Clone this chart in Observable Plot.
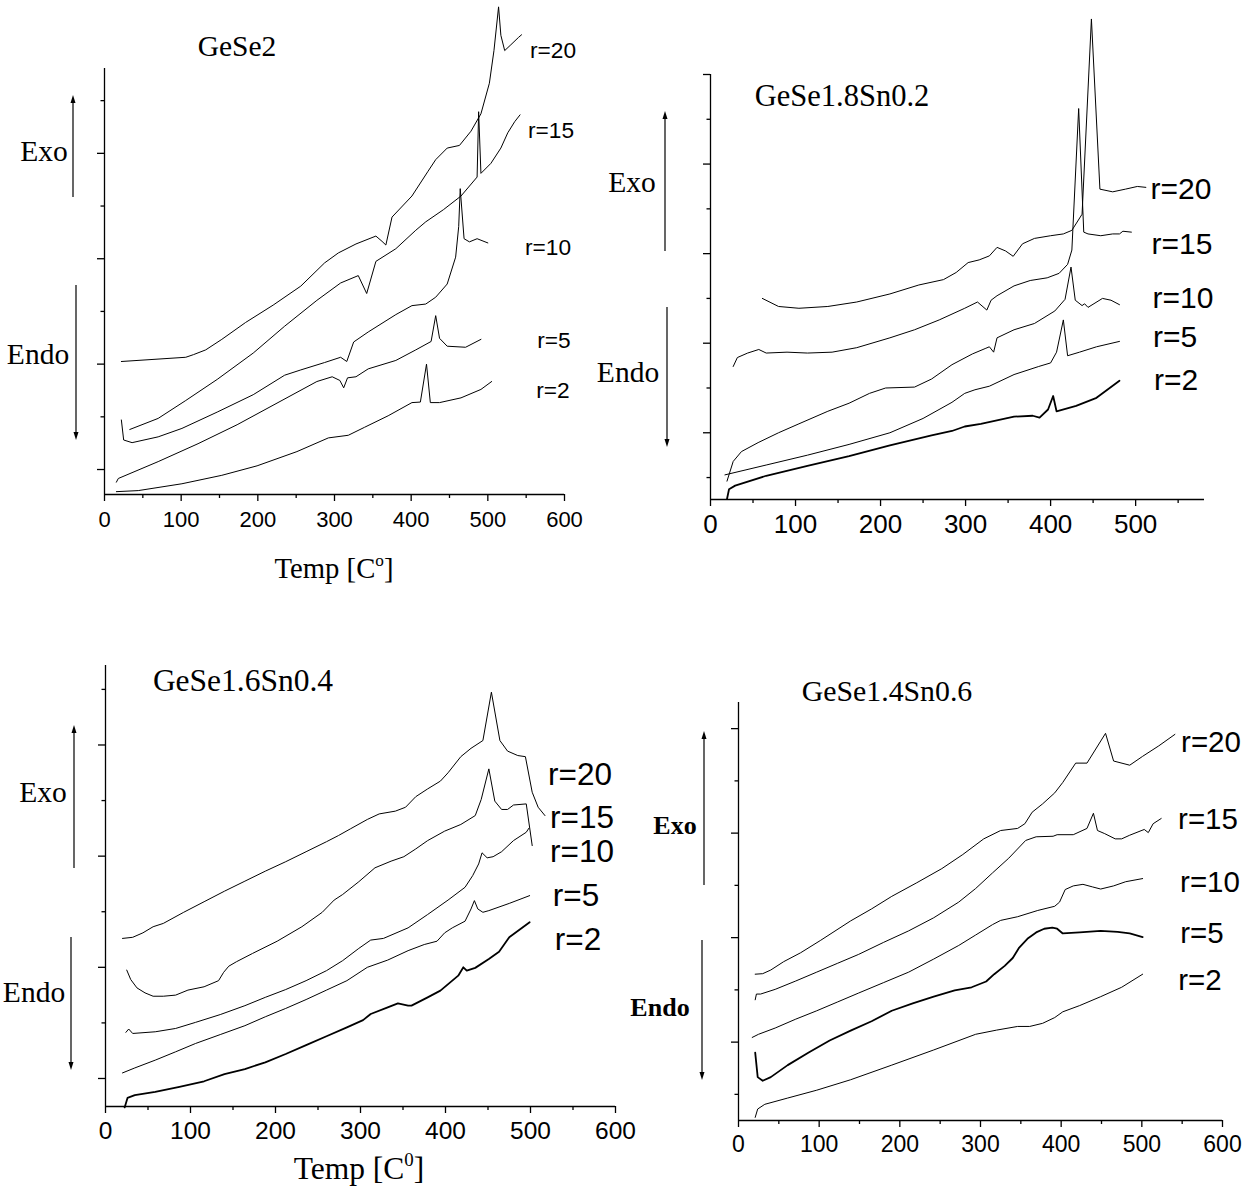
<!DOCTYPE html>
<html><head><meta charset="utf-8">
<script src="https://cdn.jsdelivr.net/npm/d3@7"></script>
<script src="https://cdn.jsdelivr.net/npm/@observablehq/plot@0.6"></script>
<style>
html,body{margin:0;padding:0;background:#fff;}
#root{position:relative;width:1251px;height:1195px;overflow:hidden;background:#fff;}
.p{position:absolute;}
.t{position:absolute;transform:translate(-50%,-50%);white-space:nowrap;line-height:1;color:#000;}
.serif{font-family:"Liberation Serif","Times New Roman",serif;}
.sans{font-family:"Liberation Sans",Arial,sans-serif;}
sup{font-size:0.6em;vertical-align:0.7em;line-height:0;}
</style></head><body><div id="root"></div>
<script>
// ---------- DATA: [temperature °C, heat flow (arb. units, one unit = one minor tick)] ----------
// Panel 1: GeSe2
const gese2_r2 = [[15.5,0.58],[44,0.60],[101,0.73],[153,0.89],[199,1.07],[251,1.34],[292,1.60],[318,1.65],[339,1.80],[370,2.02],[401,2.27],[412,2.28],[420,3.0],[425,2.27],[437,2.27],[465,2.36],[491,2.52],[505,2.67]];
const gese2_r5 = [[15.5,0.76],[18,0.83],[70,1.15],[122,1.49],[173,1.85],[225,2.26],[277,2.67],[297,2.76],[307,2.69],[312,2.55],[317,2.74],[328,2.76],[344,2.91],[380,3.07],[406,3.27],[426,3.43],[432,3.92],[437,3.49],[447,3.34],[471,3.32],[491,3.47]];
const gese2_r10 = [[22,1.94],[25,1.56],[36,1.51],[70,1.62],[101,1.78],[147,2.09],[194,2.42],[235,2.79],[256,2.89],[287,3.03],[308,3.13],[316,3.05],[325,3.42],[344,3.61],[380,3.94],[401,4.11],[419,4.14],[432,4.27],[447,4.52],[458,5.03],[462,5.61],[464,6.33],[469,5.38],[476,5.32],[486,5.38],[500,5.30]];
const gese2_r15 = [[33,1.76],[70,1.97],[106,2.31],[147,2.71],[194,3.21],[235,3.72],[277,4.21],[308,4.54],[331,4.68],[342,4.34],[354,4.95],[380,5.19],[406,5.54],[419,5.70],[442,5.93],[465,6.19],[486,6.55],[488,7.79],[491,6.62],[504,6.81],[517,7.10],[526,7.39],[535,7.60],[542,7.73]];
const gese2_r20 = [[22,3.05],[106,3.13],[116,3.18],[132,3.27],[153,3.47],[184,3.79],[220,4.12],[256,4.48],[287,4.92],[305,5.11],[328,5.28],[354,5.43],[362,5.33],[367,5.26],[375,5.79],[401,6.19],[422,6.66],[432,6.88],[447,7.10],[463,7.15],[478,7.42],[491,7.75],[502,8.33],[508,8.95],[514,9.78],[517,9.24],[522,8.95],[530,9.06],[540,9.20],[544,9.25]];

// Panel 2: GeSe1.8Sn0.2
const sn02_r2 = [[19.4,-0.48],[21.8,-0.26],[29,-0.18],[65.5,0.04],[114,0.26],[163,0.48],[211,0.72],[260,0.94],[284,1.04],[299,1.14],[318,1.20],[357,1.36],[379,1.38],[387,1.34],[397,1.52],[403,1.82],[407,1.48],[430,1.60],[454,1.78],[481,2.16]];
const sn02_r5 = [[17,0.06],[65.5,0.28],[114,0.50],[163,0.74],[211,1.0],[250,1.32],[284,1.68],[299,1.88],[311,1.96],[328,2.04],[357,2.30],[386,2.48],[400,2.56],[407,2.80],[415,3.52],[420,2.72],[434,2.80],[454,2.92],[481,3.04]];
const sn02_r10 = [[19.4,-0.08],[26.7,0.36],[36.4,0.58],[56,0.78],[80,1.0],[104,1.2],[138,1.48],[163,1.66],[187,1.88],[206,2.0],[240,2.02],[260,2.2],[284,2.52],[308,2.76],[323,2.88],[328,2.92],[333,2.80],[337,3.12],[357,3.30],[381,3.44],[405,3.72],[417,3.98],[424,4.70],[429,3.96],[437,3.84],[440,3.88],[444,3.80],[461,4.0],[471,3.96],[481,3.86]];
const sn02_r15 = [[26.7,2.48],[31.6,2.68],[43.7,2.78],[56.8,2.86],[65.5,2.78],[90,2.80],[114,2.78],[143,2.80],[172,2.90],[211,3.12],[240,3.30],[269,3.52],[299,3.78],[314,3.92],[325,3.74],[330,3.96],[337,4.06],[357,4.28],[376,4.40],[396,4.46],[410,4.56],[420,4.76],[425,5.08],[433,8.24],[439,5.48],[444,5.44],[459,5.40],[473,5.44],[481,5.44],[485,5.50],[495,5.48]];
const sn02_r20 = [[61,4.0],[80,3.82],[104,3.78],[138,3.82],[172,3.92],[211,4.10],[245,4.30],[274,4.42],[289,4.58],[303,4.80],[316,4.86],[328,4.95],[337,5.14],[347,5.06],[356,4.94],[367,5.22],[381,5.34],[400,5.40],[415,5.44],[425,5.52],[437,5.88],[448,10.24],[458,6.44],[473,6.38],[488,6.44],[502,6.50],[512,6.48]];

// Panel 3: GeSe1.6Sn0.4
const sn04_r2 = [[22.5,0.48],[25.9,0.65],[34.5,0.70],[58.5,0.76],[87,0.85],[116,0.95],[140,1.08],[164,1.17],[188,1.29],[212,1.44],[236,1.60],[260,1.76],[284,1.92],[303,2.05],[312,2.16],[332,2.28],[344,2.35],[356,2.31],[360,2.31],[379,2.46],[394,2.58],[408,2.76],[415,2.85],[421,3.0],[425,2.94],[435,2.99],[451,3.15],[463,3.28],[475,3.54],[499,3.81]];
const sn04_r5 = [[20,1.10],[34.5,1.19],[58.5,1.33],[82.5,1.48],[106,1.63],[135,1.79],[164,1.95],[188,2.11],[212,2.26],[236,2.42],[260,2.59],[284,2.76],[308,3.0],[332,3.13],[356,3.30],[375,3.41],[390,3.47],[399,3.62],[408,3.71],[423,3.83],[430,4.05],[434,4.20],[438,4.05],[444,3.99],[451,4.02],[475,4.15],[499,4.29]];
const sn04_r10 = [[24,1.83],[27.3,1.89],[32,1.81],[58.5,1.84],[82.5,1.90],[106,2.01],[135,2.15],[164,2.31],[188,2.46],[212,2.60],[236,2.76],[260,2.94],[279,3.12],[298,3.34],[312,3.49],[327,3.52],[356,3.71],[379,3.95],[403,4.21],[423,4.44],[432,4.65],[439,4.86],[443,5.06],[449,4.97],[456,4.99],[466,5.08],[480,5.28],[495,5.43],[498,5.50]];
const sn04_r15 = [[25,2.95],[29.7,2.78],[37,2.63],[46.5,2.54],[56,2.48],[68,2.48],[82.5,2.50],[97,2.59],[116,2.65],[133,2.76],[139,2.91],[145,3.02],[154,3.10],[173,3.25],[202,3.47],[231,3.73],[255,3.99],[269,4.21],[279,4.31],[298,4.54],[317,4.79],[336,4.91],[351,4.99],[365,5.13],[379,5.28],[399,5.45],[418,5.57],[435,5.73],[442,6.02],[451,6.57],[458,5.99],[466,5.84],[473,5.84],[480,5.92],[495,5.94],[502,5.19]];
const sn04_r20 = [[20,3.52],[32,3.54],[44,3.62],[56,3.73],[68,3.79],[92,3.99],[116,4.18],[140,4.37],[164,4.55],[188,4.73],[212,4.90],[236,5.08],[260,5.26],[274,5.37],[288,5.49],[308,5.66],[322,5.76],[341,5.81],[353,5.88],[365,6.07],[379,6.21],[394,6.35],[403,6.50],[418,6.79],[430,6.94],[444,7.08],[454,7.95],[464,7.08],[473,6.89],[485,6.81],[494,6.79],[502,6.15],[509,5.88],[517,5.73]];

// Panel 4: GeSe1.4Sn0.6
const sn06_r2 = [[20.7,-0.44],[23.8,-0.28],[32.6,-0.19],[61,-0.07],[97,0.08],[139,0.28],[190,0.56],[242,0.85],[294,1.15],[320,1.23],[346,1.30],[361,1.30],[377,1.36],[392,1.47],[402,1.58],[423,1.70],[449,1.87],[475,2.05],[501,2.30]];
const sn06_r5 = [[20.7,0.80],[23.8,0.33],[30,0.26],[40,0.33],[61,0.56],[87,0.80],[113,1.03],[139,1.22],[165,1.40],[190,1.60],[216,1.74],[242,1.87],[268,1.99],[289,2.05],[307,2.16],[317,2.30],[330,2.46],[340,2.61],[348,2.81],[359,2.99],[369,3.10],[379,3.17],[389,3.19],[395,3.17],[402,3.08],[423,3.10],[449,3.13],[470,3.11],[485,3.08],[501,3.01]];
const sn06_r10 = [[17,1.09],[24.8,1.15],[45.5,1.27],[71,1.44],[97,1.60],[123,1.77],[149,1.94],[180,2.14],[211,2.34],[242,2.59],[273,2.85],[294,3.05],[315,3.25],[325,3.33],[346,3.40],[371,3.52],[392,3.60],[398,3.68],[405,3.92],[415,3.99],[427,4.02],[439,3.97],[449,3.93],[465,3.99],[480,4.07],[501,4.13]];
const sn06_r15 = [[20.7,1.81],[22.2,1.92],[27.4,1.92],[45.5,2.01],[71,2.17],[97,2.34],[123,2.51],[149,2.68],[180,2.91],[211,3.13],[242,3.38],[273,3.68],[294,3.94],[315,4.24],[335,4.52],[356,4.86],[369,4.93],[390,4.94],[395,4.97],[415,4.97],[432,5.09],[440,5.38],[445,5.05],[454,4.99],[467,4.89],[475,4.89],[485,4.96],[503,5.07],[508,5.01],[514,5.18],[524,5.28]];
const sn06_r20 = [[20.7,2.30],[30,2.31],[40,2.38],[56,2.54],[77,2.71],[102,2.95],[139,3.32],[165,3.55],[190,3.79],[221,4.05],[252,4.32],[278,4.59],[304,4.89],[325,5.05],[346,5.09],[355,5.18],[364,5.40],[377,5.56],[392,5.77],[402,5.97],[418,6.34],[432,6.34],[455,6.91],[465,6.38],[485,6.30],[501,6.47],[521,6.67],[541,6.89]];

// Text
const rates = ["r=20","r=15","r=10","r=5","r=2"];
const titles = ["GeSe2","GeSe1.8Sn0.2","GeSe1.6Sn0.4","GeSe1.4Sn0.6"];
const xTickLabels = [0,100,200,300,400,500,600];
const xMinorTicks = [50,150,250,350,450,550];

// ---------- BUILD ----------
const root = document.getElementById("root");
function rows(arr, r){ return arr.map(([T,u]) => ({T, u, r})); }

const panels = [
  {left:0, top:0, width:620, height:600, mt:68, mb:106, ml:104, mr:56, xd:[0,600], yd:[0.526,8.61],
   xt:xTickLabels, ymaj:[1,3,5,7], ymin:[2,4,6,8], fs:22, pad:10,
   thin:[gese2_r2,gese2_r5,gese2_r10,gese2_r15,gese2_r20], thick:[]},
  {left:620, top:0, width:631, height:600, mt:74, mb:101, ml:90, mr:47, xd:[0,581], yd:[-0.49,9],
   xt:xTickLabels.slice(0,6), ymaj:[1,3,5,7,9], ymin:[0,2,4,6,8], fs:26, pad:8,
   thin:[sn02_r5,sn02_r10,sn02_r15,sn02_r20], thick:[sn02_r2]},
  {left:0, top:600, width:640, height:595, mt:65, mb:89, ml:105, mr:25, xd:[0,600], yd:[0.496,8.43],
   xt:xTickLabels, ymaj:[1,3,5,7], ymin:[2,4,6,8], fs:24.5, pad:8,
   thin:[sn04_r5,sn04_r10,sn04_r15,sn04_r20], thick:[sn04_r2]},
  {left:640, top:600, width:611, height:595, mt:102, mb:75, ml:98, mr:29, xd:[0,600], yd:[-0.5,7.5],
   xt:xTickLabels, ymaj:[1,3,5,7], ymin:[0,2,4,6], fs:23, pad:8,
   thin:[sn06_r2,sn06_r10,sn06_r15,sn06_r20], thick:[sn06_r5]}
];

panels.forEach((p, i) => {
  const thinData = p.thin.flatMap((a, k) => rows(a, "s"+k));
  const thickData = p.thick.flatMap((a, k) => rows(a, "t"+k));
  const chart = Plot.plot({
    width: p.width, height: p.height,
    marginTop: p.mt, marginBottom: p.mb, marginLeft: p.ml, marginRight: p.mr,
    x: {domain: p.xd}, y: {domain: p.yd},
    style: {fontFamily: "'Liberation Sans', Arial, sans-serif", fontSize: p.fs + "px", color: "#000", background: "transparent", overflow: "visible"},
    marks: [
      Plot.ruleX([p.xd[0]], {stroke: "#000", strokeWidth: 1.3}),
      Plot.ruleY([p.yd[0]], {stroke: "#000", strokeWidth: 1.3}),
      Plot.axisX({ticks: p.xt, tickSize: 7, tickPadding: p.pad, label: null, fontSize: p.fs, strokeWidth: 1.3}),
      Plot.axisX({ticks: xMinorTicks.filter(v => v <= p.xd[1]), tickSize: 4, tickFormat: () => "", label: null, strokeWidth: 1.3}),
      Plot.axisY({ticks: p.ymaj, tickSize: 7, tickFormat: () => "", label: null, strokeWidth: 1.3}),
      Plot.axisY({ticks: p.ymin, tickSize: 3.5, tickFormat: () => "", label: null, strokeWidth: 1.3}),
      Plot.line(thinData, {x: "T", y: "u", z: "r", stroke: "#000", strokeWidth: 1}),
      Plot.line(thickData, {x: "T", y: "u", z: "r", stroke: "#000", strokeWidth: 1.8})
    ]
  });
  const wrap = document.createElement("div");
  wrap.className = "p";
  wrap.style.left = p.left + "px"; wrap.style.top = p.top + "px";
  wrap.appendChild(chart);
  root.appendChild(wrap);
});

function txt(html, x, y, size, cls, bold){
  const d = document.createElement("div");
  d.className = "t " + cls;
  d.style.left = x + "px"; d.style.top = y + "px";
  d.style.fontSize = size + "px";
  if (bold) d.style.fontWeight = "bold";
  d.innerHTML = html;
  root.appendChild(d);
}
function arrow(x, y1, y2){ // from y1 to arrowhead at y2
  const ns = "http://www.w3.org/2000/svg";
  const s = document.createElementNS(ns, "svg");
  const top = Math.min(y1, y2) - 6, h = Math.abs(y2 - y1) + 12;
  s.setAttribute("width", 12); s.setAttribute("height", h);
  s.style.position = "absolute"; s.style.left = (x - 6) + "px"; s.style.top = top + "px";
  const a = y1 - top, b = y2 - top, dir = Math.sign(b - a);
  s.innerHTML = `<line x1="6" y1="${a}" x2="6" y2="${b - dir*6}" stroke="#000" stroke-width="1.2"/>` +
    `<path d="M3.5,${b - dir*8} L6,${b} L8.5,${b - dir*8} Z" fill="#000"/>`;
  root.appendChild(s);
}

// Panel 1 texts
txt(titles[0], 237, 47, 29.5, "serif");
[[553,50],[551,130],[548,247],[554,340],[553,390]].forEach((pt,k)=>txt(rates[k], pt[0], pt[1], 22.7, "sans"));
txt("Exo", 44, 152, 29.5, "serif"); txt("Endo", 38, 355, 29.5, "serif");
arrow(73, 197, 95); arrow(76, 285, 440);
txt("Temp [C<sup>o</sup>]", 334, 568, 28.7, "serif");

// Panel 2 texts
txt(titles[1], 842, 96, 30.5, "serif");
[[1181,189],[1182,244],[1183,298],[1175,337],[1176,380]].forEach((pt,k)=>txt(rates[k], pt[0], pt[1], 30, "sans"));
txt("Exo", 632, 183, 29.5, "serif"); txt("Endo", 628, 373, 29.5, "serif");
arrow(665, 251, 111); arrow(667, 307, 447);

// Panel 3 texts
txt(titles[2], 243, 681, 31.5, "serif");
[[580,775],[582,818],[582,852],[576,896],[578,940]].forEach((pt,k)=>txt(rates[k], pt[0], pt[1], 31.5, "sans"));
txt("Exo", 43, 793, 29.5, "serif"); txt("Endo", 34, 993, 29.5, "serif");
arrow(74, 868, 725); arrow(71, 937, 1070);
txt("Temp [C<sup>0</sup>]", 359, 1169, 31.5, "serif");

// Panel 4 texts
txt(titles[3], 887, 691, 29.8, "serif");
[[1211,742],[1208,819],[1210,882],[1202,933],[1200,980]].forEach((pt,k)=>txt(rates[k], pt[0], pt[1], 29.5, "sans"));
txt("Exo", 675, 826, 26, "serif", true); txt("Endo", 660, 1008, 26, "serif", true);
arrow(704, 885, 731); arrow(702, 940, 1080);
</script></body></html>
